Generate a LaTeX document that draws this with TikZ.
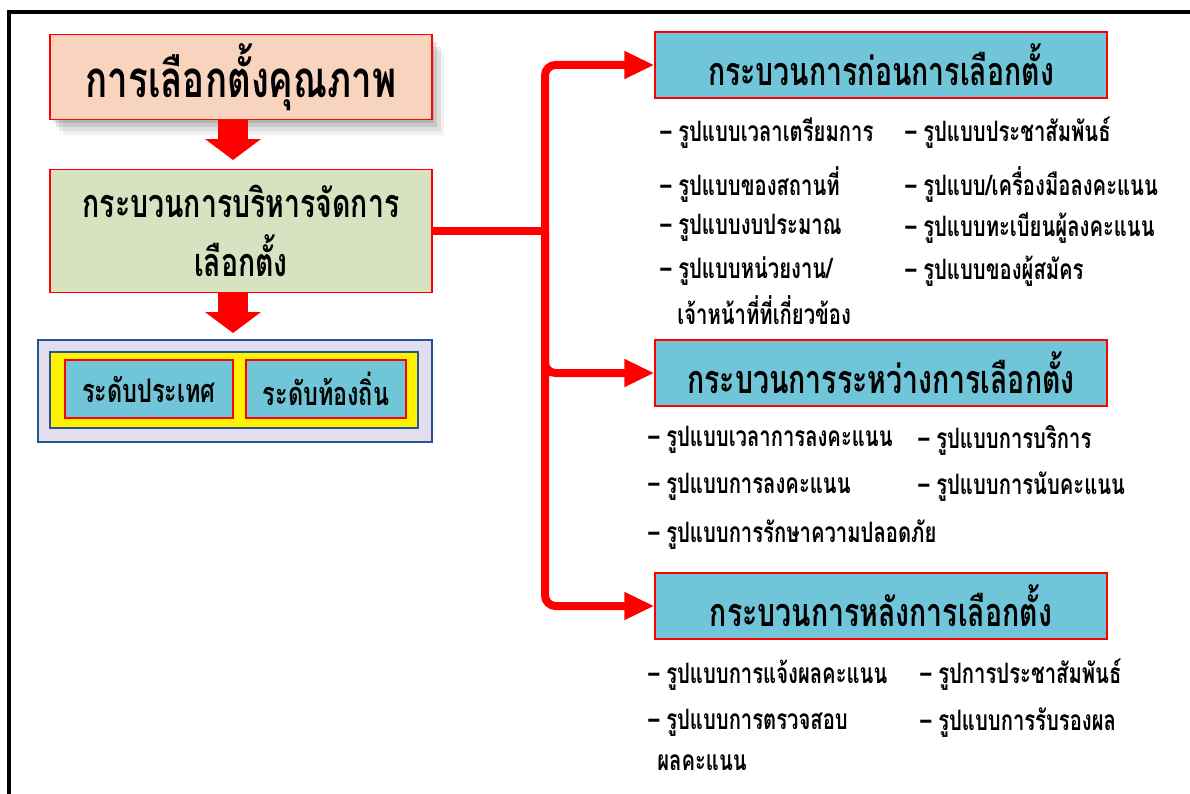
\documentclass[tikz,border=0pt]{standalone}
\usepackage{fontspec}
\newfontfamily\thaifont[Script=Thai,FakeStretch=0.72]{Loma}
\usetikzlibrary{arrows.meta,shadows}

\definecolor{peachfill}{RGB}{248,212,190}
\definecolor{sagefill}{RGB}{214,226,192}
\definecolor{skyfill}{RGB}{112,198,216}
\definecolor{lavfill}{RGB}{226,222,238}
\definecolor{navyline}{RGB}{40,82,150}

\tikzset{
	box/.style={draw=red, line width=0.8pt, inner sep=0pt, align=center, text=black},
	softshadow/.style={
		drop shadow={shadow xshift=0.05cm, shadow yshift=-0.07cm, fill=black, opacity=0.10},
		drop shadow={shadow xshift=0.11cm, shadow yshift=-0.15cm, fill=black, opacity=0.10},
		drop shadow={shadow xshift=0.18cm, shadow yshift=-0.24cm, fill=black, opacity=0.08},
		drop shadow={shadow xshift=0.25cm, shadow yshift=-0.32cm, fill=black, opacity=0.05}},
	bigtitle/.style={font={\thaifont\bfseries\fontsize{29pt}{34pt}\selectfont}},
	midtitle/.style={font={\thaifont\bfseries\fontsize{22.5pt}{34pt}\selectfont}},
	smalltitle/.style={font={\thaifont\bfseries\fontsize{18.5pt}{20pt}\selectfont}},
	item/.style={anchor=west, inner sep=0pt, font={\thaifont\bfseries\fontsize{16pt}{18pt}\selectfont}},
	downarrow/.style={red, line width=0.6cm, -{Triangle[width=1.1cm, length=0.42cm]}},
	redline/.style={red, line width=0.16cm, rounded corners=6pt},
	redarrow/.style={redline, -{Triangle[width=0.52cm, length=0.6cm]}}
}

\begin{document}
\begin{tikzpicture}[x=0.02cm, y=-0.02cm]
	\useasboundingbox (0,0) rectangle (1190,794);
	% frame
	\draw[line width=1.8pt] (9,794) -- (9,12) -- (1190,12);

	% left column
	\node[box, fill=peachfill, bigtitle, minimum width=7.64cm, minimum height=1.7cm, softshadow]
		(quality) at (241,77) {การเลือกตั้งคุณภาพ};
	\node[box, fill=sagefill, midtitle, minimum width=7.64cm, minimum height=2.46cm]
		(mgmt) at (241,231) {กระบวนการบริหารจัดการ\\เลือกตั้ง};

	\node[draw=navyline, line width=1.5pt, fill=lavfill, minimum width=7.88cm, minimum height=2.04cm]
		(levels) at (235,391) {};
	\node[draw=navyline, line width=1pt, fill=yellow, minimum width=7.36cm, minimum height=1.52cm]
		(band) at (234,390) {};
	\node[box, fill=skyfill, smalltitle, minimum width=3.36cm, minimum height=1.16cm]
		(national) at (149,389) {ระดับประเทศ};
	\node[box, fill=skyfill, smalltitle, minimum width=3.2cm, minimum height=1.16cm]
		(local) at (326,389) {ระดับท้องถิ่น};

	\draw[downarrow] (quality.south -| 233,0) -- (233,160);
	\draw[downarrow] (mgmt.south -| 233,0) -- (233,333);

	% right column
	\node[box, fill=skyfill, midtitle, minimum width=9.04cm, minimum height=1.32cm]
		(pre) at (881,65) {กระบวนการก่อนการเลือกตั้ง};
	\node[box, fill=skyfill, midtitle, minimum width=9.04cm, minimum height=1.32cm]
		(during) at (881,373) {กระบวนการระหว่างการเลือกตั้ง};
	\node[box, fill=skyfill, midtitle, minimum width=9.04cm, minimum height=1.32cm]
		(post) at (881,606) {กระบวนการหลังการเลือกตั้ง};

	% connectors
	\coordinate (fork) at (545,231);
	\draw[redline] (mgmt.east) -- (fork);
	\draw[redarrow] (fork) |- (pre.west);
	\draw[redarrow] (fork) |- (during.west);
	\draw[redarrow] (fork) |- (post.west);

	% before the election
	\node[item] (pa) at (660,133) {– รูปแบบเวลาเตรียมการ};
	\node[item] (pb) at (660,185) {– รูปแบบของสถานที่};
	\node[item] (pc) at (660,228) {– รูปแบบงบประมาณ};
	\node[item] (pd) at (660,271) {– รูปแบบหน่วยงาน/};
	\node[item] (pe) at (677,310) {เจ้าหน้าที่ที่เกี่ยวข้อง};
	\node[item] (pf) at (905,133) {– รูปแบบประชาสัมพันธ์};
	\node[item] (pg) at (905,185) {– รูปแบบ/เครื่องมือลงคะแนน};
	\node[item] (ph) at (905,228) {– รูปแบบทะเบียนผู้ลงคะแนน};
	\node[item] (pi) at (905,271) {– รูปแบบของผู้สมัคร};

	% during the election
	\node[item] (da) at (648,440) {– รูปแบบเวลาการลงคะแนน};
	\node[item] (db) at (648,487) {– รูปแบบการลงคะแนน};
	\node[item] (dc) at (648,535) {– รูปแบบการรักษาความปลอดภัย};
	\node[item] (dd) at (918,440) {– รูปแบบการบริการ};
	\node[item] (de) at (918,487) {– รูปแบบการนับคะแนน};

	% after the election
	\node[item] (qa) at (648,675) {– รูปแบบการแจ้งผลคะแนน};
	\node[item] (qb) at (648,723) {– รูปแบบการตรวจสอบ};
	\node[item] (qc) at (657,763) {ผลคะแนน};
	\node[item] (qd) at (920,675) {– รูปการประชาสัมพันธ์};
	\node[item] (qe) at (920,723) {– รูปแบบการรับรองผล};
\end{tikzpicture}
\end{document}
